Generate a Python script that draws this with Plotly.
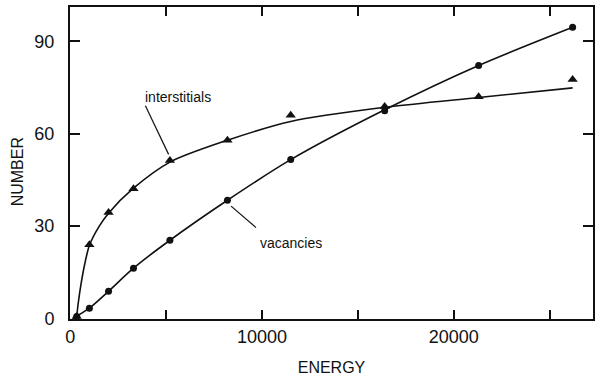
import plotly.graph_objects as go

# measured data points
energy = [340, 1000, 2000, 3300, 5200, 8200, 11500, 16400, 21300, 26200]
vacancies = [0.6, 3.3, 8.8, 16.3, 25.4, 38.4, 51.6, 67.5, 82.2, 94.6]
interstitials = [0.6, 23.9, 34.4, 42.1, 51.3, 57.9, 66.0, 68.9, 72.0, 77.6]

# fitted curves
vac_fit_x = [150, 1000, 2000, 3300, 5200, 8200, 11500, 16400, 21300, 26200]
vac_fit_y = [0.0, 3.3, 8.8, 16.3, 25.4, 38.4, 51.6, 67.8, 82.2, 94.6]
int_fit_x = [330, 420, 560, 770, 1000, 1500, 2000, 3300, 5200, 8200, 11500, 16400, 21300, 26200]
int_fit_y = [0.0, 5.0, 11.0, 18.0, 23.7, 29.8, 34.2, 42.3, 50.8, 57.9, 64.0, 68.6, 71.8, 74.9]

x_ticks = [0, 5000, 10000, 15000, 20000, 25000]
x_ticktext = ["0", "", "10000", "", "20000", ""]
y_ticks = [0, 30, 60, 90]

FONT = "Liberation Sans, Arial, sans-serif"
BLACK = "#111111"

fig = go.Figure()
fig.add_trace(go.Scatter(x=int_fit_x, y=int_fit_y, mode="lines",
                         line=dict(color=BLACK, width=1.6, shape="spline", smoothing=0.8),
                         hoverinfo="skip", showlegend=False))
fig.add_trace(go.Scatter(x=vac_fit_x, y=vac_fit_y, mode="lines",
                         line=dict(color=BLACK, width=1.6, shape="spline", smoothing=0.8),
                         hoverinfo="skip", showlegend=False))
fig.add_trace(go.Scatter(x=energy, y=interstitials, mode="markers",
                         marker=dict(symbol="triangle-up", size=9, color=BLACK),
                         name="interstitials", showlegend=False))
fig.add_trace(go.Scatter(x=energy, y=vacancies, mode="markers",
                         marker=dict(symbol="circle", size=7, color=BLACK),
                         name="vacancies", showlegend=False))

# leader lines
fig.add_shape(type="line", xref="x", yref="y", x0=3922, y0=69.1, x1=5132, y1=53.3,
              line=dict(color=BLACK, width=1.2))
fig.add_shape(type="line", xref="x", yref="y", x0=8390, y0=36.5, x1=9688, y1=29.5,
              line=dict(color=BLACK, width=1.2))

fig.add_annotation(x=5600, y=71.8, xref="x", yref="y", text="interstitials",
                   showarrow=False, font=dict(family=FONT, size=14, color=BLACK))
fig.add_annotation(x=11530, y=24.4, xref="x", yref="y", text="vacancies",
                   showarrow=False, font=dict(family=FONT, size=14, color=BLACK))
fig.add_annotation(x=0, y=0.47, xref="paper", yref="paper", xanchor="center", yanchor="middle",
                   xshift=-53, text="NUMBER", textangle=-90, showarrow=False,
                   font=dict(family=FONT, size=16, color=BLACK))

fig.update_layout(
    width=597, height=379,
    margin=dict(l=70, r=2, t=7, b=60),
    paper_bgcolor="white", plot_bgcolor="white",
    font=dict(family=FONT, size=18, color=BLACK),
    xaxis=dict(range=[-10, 27263], tickvals=x_ticks, ticktext=x_ticktext,
               ticks="inside", ticklen=9, tickwidth=2, tickcolor=BLACK,
               showline=True, linewidth=2, linecolor=BLACK, mirror="ticks",
               showgrid=False, zeroline=False,
               title=dict(text="ENERGY", font=dict(family=FONT, size=16, color=BLACK), standoff=16),
               tickfont=dict(family=FONT, size=18, color=BLACK)),
    yaxis=dict(range=[-0.2, 101.2], tickvals=y_ticks,
               ticks="inside", ticklen=10, tickwidth=2, tickcolor=BLACK,
               showline=True, linewidth=2, linecolor=BLACK, mirror="ticks",
               showgrid=False, zeroline=False, ticklabelstandoff=10,
               tickfont=dict(family=FONT, size=18, color=BLACK)),
)
fig.write_html("out.html")
